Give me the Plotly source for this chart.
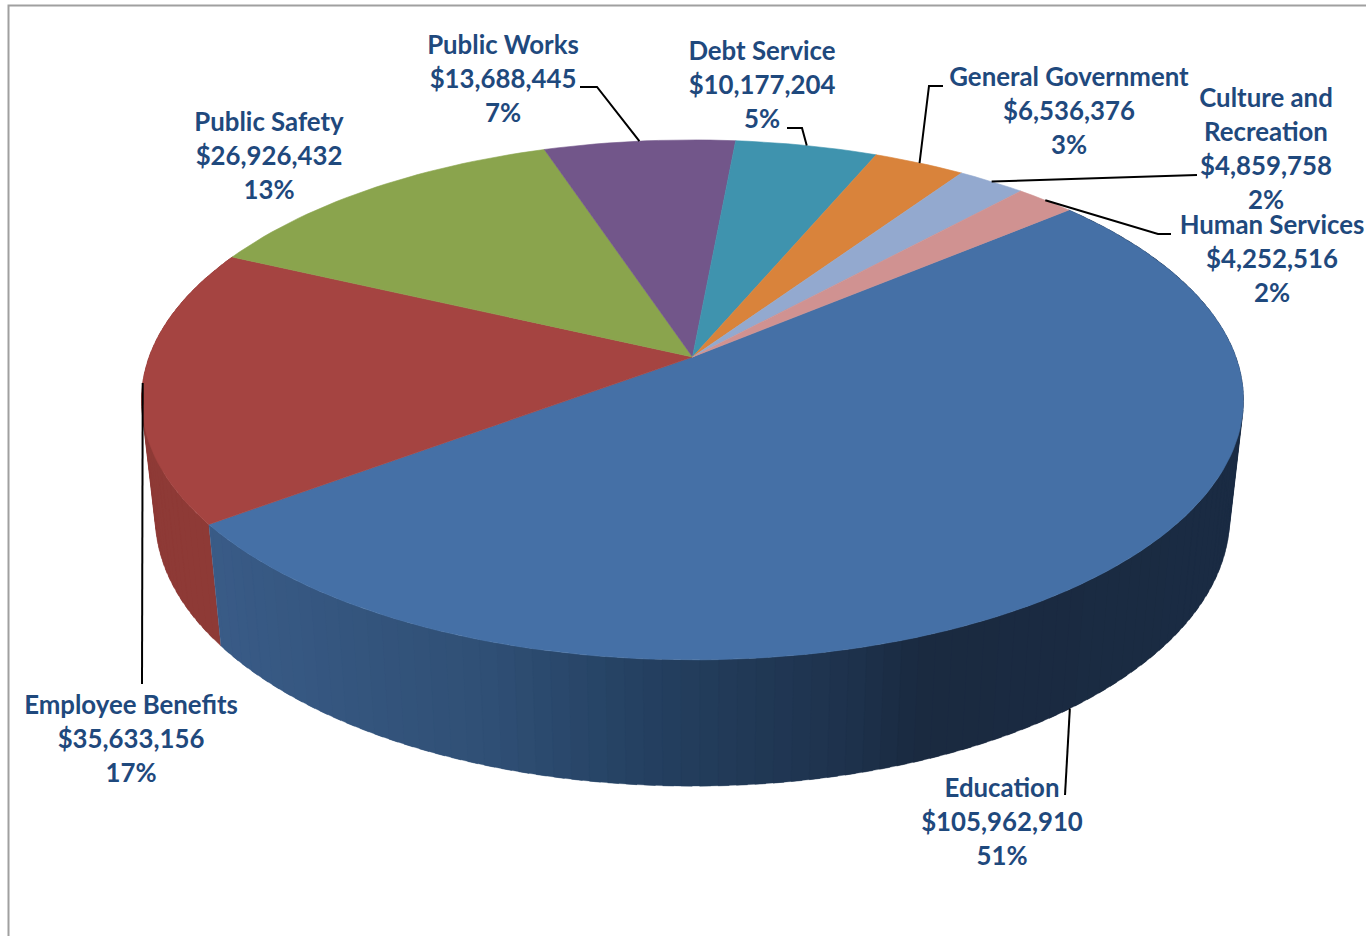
import math
import plotly.graph_objects as go

# ---- data ----
names = ["Education", "Employee Benefits", "Public Safety", "Public Works",
         "Debt Service", "General Government", "Culture and<br>Recreation", "Human Services"]
values = [105962910, 35633156, 26926432, 13688445, 10177204, 6536376, 4859758, 4252516]
colors = ["#4570A6", "#A54441", "#8AA44D", "#72568A", "#3F93AE", "#D9833B", "#93A9CF", "#D09291"]

# ---- label layout (axis units = pixels) ----
label_x = [1002, 131, 269, 503, 762, 1069, 1266, 1272]
label_y = [791, 708, 125, 48, 54, 80, 101, 228]
line_pitch = 34.0
text_color = "#1F497D"
font_family = "Lato"
font_size = 25.8

# leader elbows: points from label to the rim, rim point is derived from the data
leader_paths = {
    0: [(1065, 795)],
    1: [(142, 684)],
    3: [(580, 87), (597, 87)],
    4: [(787, 128), (802, 128)],
    5: [(943, 86), (929, 86)],
    6: [(1197, 175)],
    7: [(1171, 234), (1158, 234)],
}

# ---- tilted-disc projection ----
CX, APEX_Y, BX, AY, K = 692.5, 357.0, 543.4, 252.9, 0.165
LOW_Y, LOW_SX, LOW_SY = 473.0, 0.975, 1.034
START_DEG = 40.0


def top(t):
    u, v = math.cos(t), math.sin(t)
    d = 1 + K * v
    return CX + BX * u / d, APEX_Y - AY * v / d


def low(t):
    u, v = math.cos(t), math.sin(t)
    d = 1 + K * v
    return CX + LOW_SX * BX * u / d, LOW_Y - LOW_SY * AY * v / d


total = sum(values)
edges = [0.0]
for val in values:
    edges.append(edges[-1] + val / total)
angle = lambda f: math.radians(START_DEG - 360 * f)

fig = go.Figure()


def add_poly(pts, color, stroke=0.6):
    xs = [p[0] for p in pts] + [pts[0][0]]
    ys = [p[1] for p in pts] + [pts[0][1]]
    fig.add_trace(go.Scatter(x=xs, y=ys, mode="lines", fill="toself", fillcolor=color,
                             line=dict(color=color, width=stroke), hoverinfo="skip", showlegend=False))


def lerp(a, b, f):
    return tuple(a[i] + (b[i] - a[i]) * f for i in range(3))


# wall of Education: shade follows horizontal position; each band overlaps the next to hide seams
BLUE_STOPS = [(215, (58, 92, 136)), (500, (48, 80, 118)), (650, (37, 65, 98)),
              (860, (30, 50, 76)), (930, (26, 42, 64)), (1240, (26, 44, 68))]


def blue_at(x):
    for (x0, c0), (x1, c1) in zip(BLUE_STOPS, BLUE_STOPS[1:]):
        if x <= x1:
            return lerp(c0, c1, max(0, (x - x0) / (x1 - x0)))
    return BLUE_STOPS[-1][1]


def wall_arc(f0, f1, t0, t1, n=3):
    a = angle(f0 + (f1 - f0) * t0)
    b = angle(f0 + (f1 - f0) * t1)
    ts = [a + (b - a) * j / n for j in range(n + 1)]
    return [top(t) for t in ts] + [low(t) for t in reversed(ts)]


# wall of Employee Benefits: overlapping bands, so the outline stays tangent to both discs
steps = 40
for i in range(steps):
    add_poly(wall_arc(edges[1], edges[2], i / steps, min(1.0, (i + 1.6) / steps)), "#8E3A36", stroke=0.3)

steps = 110
for i in range(steps - 1, -1, -1):  # right to left, the nearer band overlaps its neighbour
    t0, t1 = i / steps, min(1.0, (i + 1.6) / steps)
    xm = low(angle(edges[0] + (edges[1] - edges[0]) * (i + 0.5) / steps))[0]
    add_poly(wall_arc(edges[0], edges[1], t0, t1), "rgb(%d,%d,%d)" % blue_at(xm), stroke=0.3)

# top slices
for i, col in enumerate(colors):
    n = max(4, int((edges[i + 1] - edges[i]) * 240))
    pts = [(CX, APEX_Y)]
    for j in range(n + 1):
        pts.append(top(angle(edges[i] + (edges[i + 1] - edges[i]) * j / n)))
    add_poly(pts, col)

# leaders
for i, path in leader_paths.items():
    mid = angle((edges[i] + edges[i + 1]) / 2)
    rim = low(mid) if i == 0 else top(mid)
    pts = path + [rim]
    fig.add_trace(go.Scatter(x=[p[0] for p in pts], y=[p[1] for p in pts], mode="lines",
                             line=dict(color="#000000", width=2), hoverinfo="skip", showlegend=False))

# labels
for i, name in enumerate(names):
    lines = name.split("<br>") + [f"${values[i]:,}", f"{round(values[i] / total * 100)}%"]
    fig.add_trace(go.Scatter(
        x=[label_x[i]] * len(lines),
        y=[label_y[i] + k * line_pitch for k in range(len(lines))],
        mode="text", text=lines, textposition="middle center", cliponaxis=False,
        textfont=dict(family=font_family, size=font_size, color=text_color, weight="bold"),
        hoverinfo="skip", showlegend=False))

fig.update_layout(
    width=1366, height=936, margin=dict(l=0, r=0, t=0, b=0),
    paper_bgcolor="white", plot_bgcolor="white",
    xaxis=dict(range=[0, 1366], visible=False, fixedrange=True),
    yaxis=dict(range=[936, 0], visible=False, fixedrange=True),
    shapes=[dict(type="rect", xref="x", yref="y", x0=8.5, y0=5.5, x1=1400, y1=1000,
                 line=dict(color="#A0A0A0", width=2), layer="below")],
)
fig.write_html("out.html", config={"displayModeBar": False}, post_script="document.body.style.margin='0';")
